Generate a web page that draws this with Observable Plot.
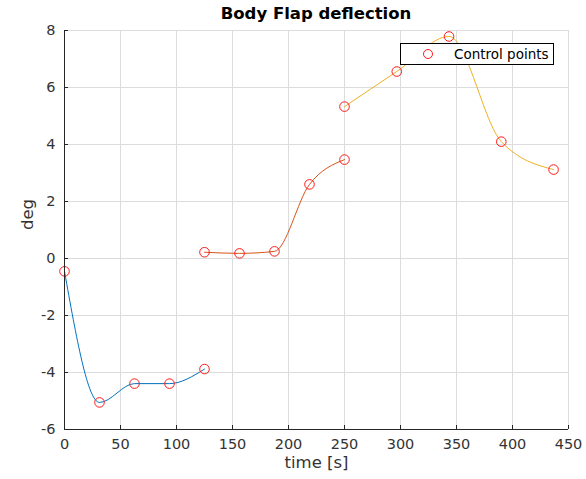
<!DOCTYPE html>
<html>
<head>
<meta charset="utf-8">
<script src="https://cdn.jsdelivr.net/npm/d3@7"></script>
<script src="https://cdn.jsdelivr.net/npm/@observablehq/plot@0.6"></script>
<style>
  html, body { margin: 0; padding: 0; background: #fff; }
  #wrap { position: relative; width: 586px; height: 479px; font-family: "DejaVu Sans", sans-serif; }
  #title { position: absolute; left: 64px; width: 504px; top: 4px; text-align: center; font-weight: bold; font-size: 16.5px; color: #000; line-height: 20px; }
  #legend { position: absolute; left: 400px; top: 43px; width: 154px; height: 22px; background: #fff; border: 1px solid #000; box-sizing: border-box; font-size: 13.5px; color: #000; }
  #legend svg { position: absolute; left: 21px; top: 4px; }
  #legend span { position: absolute; left: 53px; top: 1px; line-height: 18px; }
</style>
</head>
<body>
<div id="wrap">
  <div id="chart"></div>
  <div id="title">Body Flap deflection</div>
  <div id="legend"><svg width="12" height="12"><circle cx="6" cy="6" r="4.5" fill="none" stroke="#ff1a1a" stroke-width="1"></circle></svg><span>Control points</span></div>
</div>
<script>
const seg1T = [0, 31.25, 62.5, 93.75, 125];
const seg1V = [-0.45, -5.05, -4.39, -4.39, -3.88];
const seg2T = [125, 156.25, 187.5, 218.75, 250];
const seg2V = [0.22, 0.18, 0.25, 2.6, 3.47];
const seg3T = [250, 296.67, 343.33, 390, 436.67];
const seg3V = [5.33, 6.56, 7.79, 4.1, 3.12];
const segColors = ["#0072BD", "#D95319", "#EDB120"];
const xTicks = [0, 50, 100, 150, 200, 250, 300, 350, 400, 450];
const yTicks = [-6, -4, -2, 0, 2, 4, 6, 8];

const segs = [[seg1T, seg1V], [seg2T, seg2V], [seg3T, seg3V]];
const data = segs.flatMap(([t, v], s) => t.map((ti, i) => ({t: ti, v: v[i], s})));

const chart = Plot.plot({
  width: 586,
  height: 479,
  marginLeft: 64,
  marginRight: 18,
  marginTop: 30,
  marginBottom: 50,
  style: {fontFamily: "DejaVu Sans, sans-serif", fontSize: "12px", color: "#262626", background: "#fff"},
  x: {domain: [0, 450], ticks: xTicks, label: null},
  y: {domain: [-6, 8], ticks: yTicks, label: null},
  marks: [
    Plot.gridX(xTicks, {stroke: "#dcdcdc", strokeOpacity: 1}),
    Plot.gridY(yTicks, {stroke: "#dcdcdc", strokeOpacity: 1}),
    Plot.line(data, {x: "t", y: "v", z: "s", stroke: d => segColors[d.s], curve: "monotone-x", strokeWidth: 1}),
    Plot.dot(data, {x: "t", y: "v", r: 4.8, stroke: "#ff1a1a", fill: "none", strokeWidth: 1}),
    Plot.ruleY([-6], {stroke: "#262626"}),
    Plot.ruleX([0], {stroke: "#262626"}),
    Plot.ruleX(xTicks, {y1: -6, y2: -5.86, stroke: "#262626"}),
    Plot.ruleY(yTicks, {x1: 0, x2: 3.6, stroke: "#262626"}),
    Plot.axisX(xTicks, {tickSize: 0, tickPadding: 9, fontSize: 14.5, fill: "#333", tickFormat: d => String(d)}),
    Plot.axisY(yTicks, {tickSize: 0, tickPadding: 9, fontSize: 14.5, fill: "#333", tickFormat: d => String(d)}),
    Plot.text(["time [s]"], {frameAnchor: "bottom", dy: 38, fontSize: 16.5, fill: "#333"}),
    Plot.text(["deg"], {frameAnchor: "left", dx: -37, rotate: -90, fontSize: 16.5, fill: "#333"})
  ]
});
document.getElementById("chart").appendChild(chart);
</script>
</body>
</html>
